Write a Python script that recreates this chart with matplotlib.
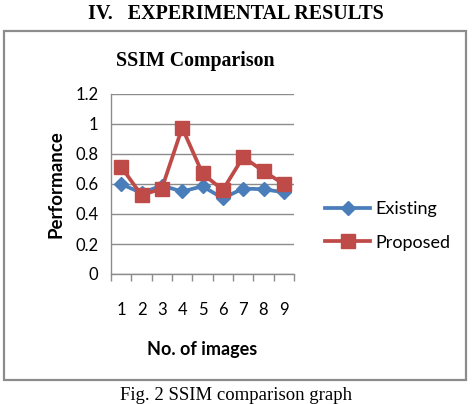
import matplotlib

matplotlib.use("Agg")
import matplotlib.pyplot as plt
from matplotlib.patches import Rectangle

images = [1, 2, 3, 4, 5, 6, 7, 8, 9]
existing = [0.60, 0.54, 0.59, 0.55, 0.585, 0.505, 0.57, 0.565, 0.545]
proposed = [0.715, 0.525, 0.57, 0.975, 0.67, 0.56, 0.78, 0.685, 0.60]
y_ticks = [0, 0.2, 0.4, 0.6, 0.8, 1, 1.2]
y_tick_labels = ["0", "0.2", "0.4", "0.6", "0.8", "1", "1.2"]

W, H = 473, 404
fig = plt.figure(figsize=(W / 100, H / 100), dpi=100)
fig.patch.set_facecolor("white")

serif = "Liberation Serif"
sans = "Lato"

# page heading, chart frame and caption
fig.text(236 / W, 1 - 14 / H, "IV.   EXPERIMENTAL RESULTS", family=serif,
         weight="bold", fontsize=14.5, ha="center", va="center")
fig.patches.append(Rectangle((4 / W, 1 - 380 / H), 462 / W, 349 / H,
                             transform=fig.transFigure, fill=False,
                             edgecolor="#8c8c8c", linewidth=1.6))
fig.text(236 / W, 1 - 395 / H, "Fig. 2 SSIM comparison graph", family=serif,
         fontsize=13.5, ha="center", va="center")

ax = fig.add_axes([111 / W, 1 - 274 / H, 183 / W, 180 / H])
x = range(len(images))
ax.plot(x, existing, color="#4a7ebb", linewidth=2.7, marker="D",
        markersize=7.5, label="Existing", zorder=3)
ax.plot(x, proposed, color="#be4b48", linewidth=2.7, marker="s",
        markersize=10, label="Proposed", zorder=4)

ax.set_xlim(-0.5, len(images) - 0.5)
ax.set_ylim(0, 1.2)
ax.set_yticks(y_ticks)
ax.set_yticklabels(y_tick_labels, family=sans, fontsize=12)
ax.set_xticks(list(x))
ax.set_xticklabels([str(i) for i in images], family=sans, fontsize=12)
ax.set_xticks([i - 0.5 for i in range(len(images) + 1)], minor=True)
ax.tick_params(axis="x", which="major", length=0, pad=20)
ax.tick_params(axis="x", which="minor", length=5, color="#8c8c8c", width=1)
ax.tick_params(axis="y", length=0, pad=9)
ax.grid(True, axis="y", color="#8c8c8c", linewidth=1)
for side in ["top", "right"]:
    ax.spines[side].set_visible(False)
for side in ["left", "bottom"]:
    ax.spines[side].set_color("#8c8c8c")
    ax.spines[side].set_linewidth(1)

ax.set_xlabel("No. of images", family=sans, weight="bold", fontsize=13,
              labelpad=17)
ax.set_ylabel("Performance", family=sans, weight="bold", fontsize=13.5,
              labelpad=8)
ax.set_title("SSIM Comparison", family=serif, weight="bold", fontsize=14.3,
             pad=20, x=0.46)

fig.legend(loc="center left", bbox_to_anchor=(309 / W, 1 - 226 / H),
           frameon=False, prop={"family": sans, "size": 13},
           handlelength=2.5, labelspacing=0.95, handletextpad=0.25)

fig.savefig("out.png", dpi=100)
